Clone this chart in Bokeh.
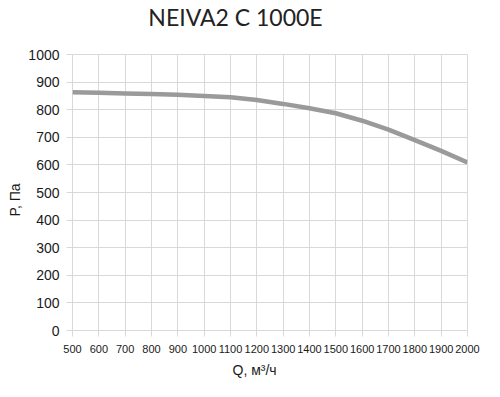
from bokeh.plotting import figure
from bokeh.models import Range1d, FixedTicker, Title, Label
from bokeh.layouts import column
from bokeh.embed import file_html
from bokeh.resources import INLINE

# Data
q_values = [500, 600, 700, 800, 900, 1000, 1100, 1200, 1300, 1400, 1500, 1600, 1700, 1800, 1900, 2000]
p_values = [863, 861, 859, 857, 854, 850, 845, 835, 821, 805, 787, 760, 728, 690, 651, 609]
x_ticks = list(range(500, 2001, 100))
y_ticks = list(range(0, 1001, 100))
title_text = "NEIVA2 C 1000E"
x_label_text = "Q, м³/ч"
y_label_text = "P, Па"

GRID = "#d9d9d9"
W = 484
TITLE_H = 34
H = 381 - TITLE_H

# --- title strip (its own small figure, so the title can sit high above the frame)
t = figure(width=W, height=TITLE_H, output_backend="svg", toolbar_location=None,
           x_axis_type=None, y_axis_type=None,
           min_border_left=72, min_border_right=17, min_border_top=0, min_border_bottom=0,
           x_range=Range1d(0, 1), y_range=Range1d(0, 1))
t.outline_line_color = None
t.add_layout(Label(text=title_text, x=163, y=18, x_units="screen", y_units="screen",
                   text_font="Lato", text_font_size="23px", text_color="#222222",
                   text_baseline="alphabetic", text_align="center"))

# --- main chart
p = figure(width=W, height=H, output_backend="svg", toolbar_location=None,
           x_range=Range1d(500, 2000), y_range=Range1d(0, 1000),
           min_border_left=72, min_border_right=17, min_border_top=20, min_border_bottom=51)

p.line(q_values, p_values, line_color="#9a9a9a", line_width=4.5)

p.outline_line_color = GRID
p.xgrid.grid_line_color = GRID
p.ygrid.grid_line_color = GRID
p.xaxis.ticker = FixedTicker(ticks=x_ticks)
p.yaxis.ticker = FixedTicker(ticks=y_ticks)
for ax in (p.xaxis[0], p.yaxis[0]):
    ax.axis_line_color = None
    ax.major_tick_line_color = GRID
    ax.major_tick_out = 6
    ax.major_tick_in = 0
    ax.minor_tick_line_color = None
    ax.major_label_text_font = "Liberation Sans"
    ax.major_label_text_color = "#1a1a1a"
p.xaxis.major_label_text_font_size = "11px"
p.yaxis.major_label_text_font_size = "14px"
p.xaxis.major_label_standoff = 8
p.yaxis.major_label_standoff = 7

p.add_layout(Title(text=x_label_text, align="left", offset=160, text_font="Liberation Sans",
                   text_font_size="14px", text_font_style="normal", text_color="#1a1a1a",
                   standoff=8), "below")
p.add_layout(Title(text=y_label_text, align="left", offset=114, text_font="Liberation Sans",
                   text_font_size="14px", text_font_style="normal", text_color="#1a1a1a",
                   standoff=6), "left")

layout = column(t, p, spacing=0)
open("out.html", "w").write(file_html(layout, INLINE))
